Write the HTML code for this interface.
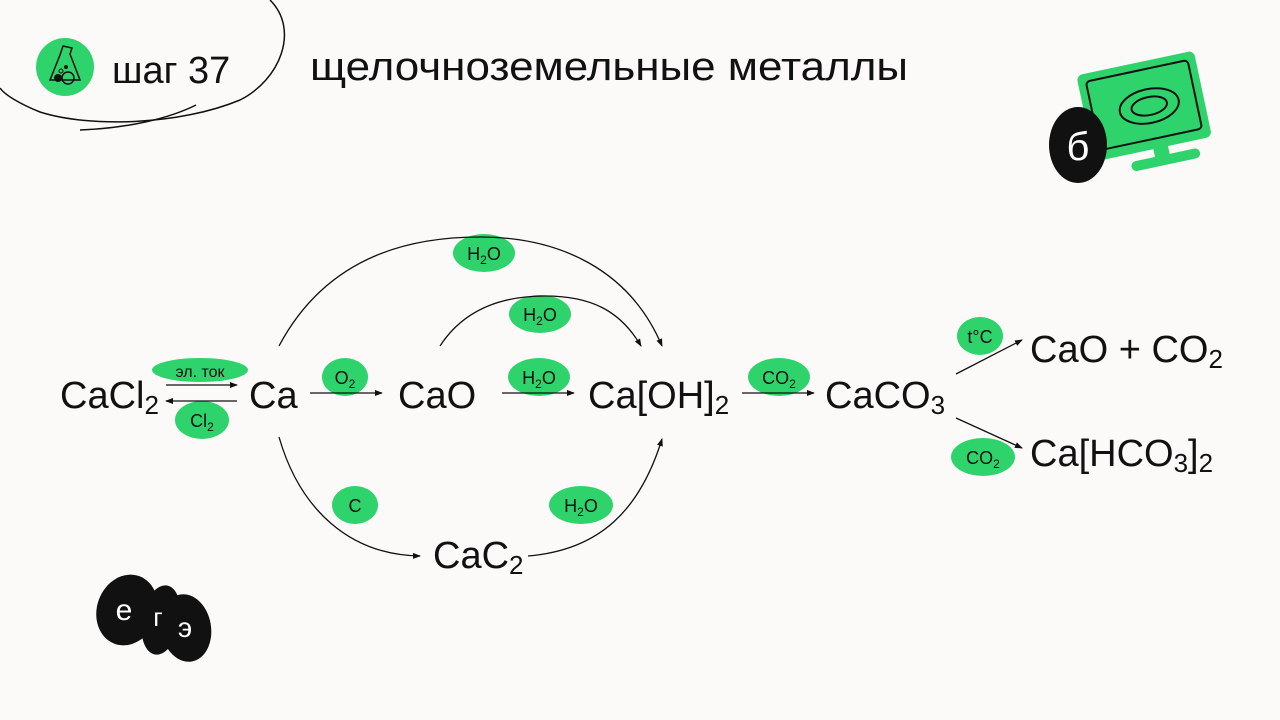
<!DOCTYPE html>
<html><head><meta charset="utf-8"><style>
html,body{margin:0;padding:0;background:#fcfaf9;}
svg{display:block}
text{font-family:"Liberation Sans",sans-serif;fill:#111}
</style></head><body>
<svg width="1280" height="720" viewBox="0 0 1280 720" xmlns="http://www.w3.org/2000/svg">
<defs>
<marker id="a" markerWidth="8" markerHeight="8" refX="7" refY="4" orient="auto" markerUnits="userSpaceOnUse">
<path d="M0,1 L8,4 L0,7 Z" fill="#111"/></marker>
</defs>
<rect width="1280" height="720" fill="#fcfaf9"/>
<!-- header swoosh -->
<path d="M270,0 C300,30 280,80 240,100 C180,125 90,128 40,112 C20,104 5,95 0,88" fill="none" stroke="#111" stroke-width="1.5"/>
<path d="M80,130 C130,128 170,118 196,105" fill="none" stroke="#111" stroke-width="1.5"/>
<circle cx="65" cy="67" r="29" fill="#2fd36b"/>
<path d="M63,46 L72,48 L70,54 L80,80 L50,80 L60,55 Z" fill="none" stroke="#111" stroke-width="1.5"/>
<circle cx="58" cy="78" r="4" fill="#111"/><circle cx="68" cy="78" r="6" fill="none" stroke="#111" stroke-width="1.5"/><circle cx="61" cy="71" r="2" fill="none" stroke="#111"/><circle cx="66" cy="67" r="2" fill="#111"/>
<text x="112" y="83" font-size="38">шаг 37</text>
<text x="310" y="80" font-size="40" textLength="598" lengthAdjust="spacingAndGlyphs">щелочноземельные металлы</text>
<!-- top right logo -->
<g transform="rotate(-12 1145 110)">
<rect x="1085" y="62" width="120" height="88" rx="6" fill="#2fd36b"/>
<rect x="1093" y="70" width="104" height="70" rx="4" fill="none" stroke="#111" stroke-width="2"/>
<ellipse cx="1150" cy="107" rx="30" ry="17" fill="none" stroke="#111" stroke-width="2"/>
<ellipse cx="1150" cy="107" rx="18" ry="9" fill="none" stroke="#111" stroke-width="2"/>
<rect x="1120" y="158" width="70" height="10" rx="5" fill="#2fd36b"/>
<rect x="1145" y="148" width="15" height="12" fill="#2fd36b"/>
</g>
<ellipse cx="1078" cy="145" rx="29" ry="38" fill="#111"/>
<text x="1078" y="160" font-size="40" text-anchor="middle" style="fill:#fff">б</text>
<!-- ege logo -->
<ellipse cx="127" cy="610" rx="30" ry="36" fill="#111" transform="rotate(20 127 610)"/>
<ellipse cx="161" cy="620" rx="19" ry="35" fill="#111" transform="rotate(10 161 620)"/>
<ellipse cx="186" cy="628" rx="25" ry="34" fill="#111" transform="rotate(-10 186 628)"/>
<text x="124" y="620" font-size="30" text-anchor="middle" style="fill:#fff">е</text>
<text x="158" y="626" font-size="26" text-anchor="middle" style="fill:#fff">г</text>
<text x="185" y="637" font-size="28" text-anchor="middle" style="fill:#fff">э</text>
<!-- green labels -->
<g fill="#2fd36b">
<ellipse cx="200" cy="370" rx="48" ry="12"/>
<ellipse cx="202" cy="420" rx="27" ry="19"/>
<ellipse cx="345" cy="377" rx="23" ry="19"/>
<ellipse cx="539" cy="377" rx="31" ry="19"/>
<ellipse cx="484" cy="253" rx="31" ry="19"/>
<ellipse cx="540" cy="314" rx="31" ry="19"/>
<ellipse cx="779" cy="377" rx="31" ry="19"/>
<ellipse cx="980" cy="336" rx="23" ry="19"/>
<ellipse cx="983" cy="457" rx="32" ry="19"/>
<ellipse cx="355" cy="505" rx="23" ry="19"/>
<ellipse cx="581" cy="505" rx="32" ry="19"/>
</g>
<g font-size="18" text-anchor="middle">
<text x="200" y="377" font-size="16">эл. ток</text>
<text x="202" y="427">Cl<tspan font-size="12" dy="4">2</tspan></text>
<text x="345" y="384">O<tspan font-size="12" dy="4">2</tspan></text>
<text x="539" y="384">H<tspan font-size="12" dy="4">2</tspan><tspan dy="-4">O</tspan></text>
<text x="484" y="260">H<tspan font-size="12" dy="4">2</tspan><tspan dy="-4">O</tspan></text>
<text x="540" y="321">H<tspan font-size="12" dy="4">2</tspan><tspan dy="-4">O</tspan></text>
<text x="779" y="384">CO<tspan font-size="12" dy="4">2</tspan></text>
<text x="980" y="343">t°C</text>
<text x="983" y="464">CO<tspan font-size="12" dy="4">2</tspan></text>
<text x="355" y="512">C</text>
<text x="581" y="512">H<tspan font-size="12" dy="4">2</tspan><tspan dy="-4">O</tspan></text>
</g>
<!-- main formulas -->
<g font-size="38">
<text x="60" y="408">CaCl<tspan font-size="26" dy="6">2</tspan></text>
<text x="249" y="408">Ca</text>
<text x="398" y="408">CaO</text>
<text x="588" y="408">Ca[OH]<tspan font-size="26" dy="6">2</tspan></text>
<text x="825" y="408">CaCO<tspan font-size="26" dy="6">3</tspan></text>
<text x="1030" y="362">CaO + CO<tspan font-size="26" dy="6">2</tspan></text>
<text x="1030" y="466">Ca[HCO<tspan font-size="26" dy="6">3</tspan><tspan dy="-6">]</tspan><tspan font-size="26" dy="6">2</tspan></text>
<text x="433" y="568">CaC<tspan font-size="26" dy="6">2</tspan></text>
</g>
<!-- arrows -->
<g stroke="#111" stroke-width="1.3" fill="none">
<line x1="166" y1="385" x2="237" y2="385" marker-end="url(#a)"/>
<line x1="237" y1="401" x2="166" y2="401" marker-end="url(#a)"/>
<line x1="310" y1="393" x2="382" y2="393" marker-end="url(#a)"/>
<line x1="502" y1="393" x2="574" y2="393" marker-end="url(#a)"/>
<line x1="742" y1="393" x2="814" y2="393" marker-end="url(#a)"/>
<line x1="956" y1="374" x2="1022" y2="340" marker-end="url(#a)"/>
<line x1="956" y1="418" x2="1022" y2="448" marker-end="url(#a)"/>
<path d="M279,346 C330,250 420,237 480,237 C560,237 630,270 662,346" marker-end="url(#a)"/>
<path d="M440,346 C470,300 520,296 545,296 C590,296 620,310 641,346" marker-end="url(#a)"/>
<path d="M279,437 C300,510 350,555 420,556" marker-end="url(#a)"/>
<path d="M528,556 C600,550 640,510 662,439" marker-end="url(#a)"/>
</g>
</svg>
</body></html>
